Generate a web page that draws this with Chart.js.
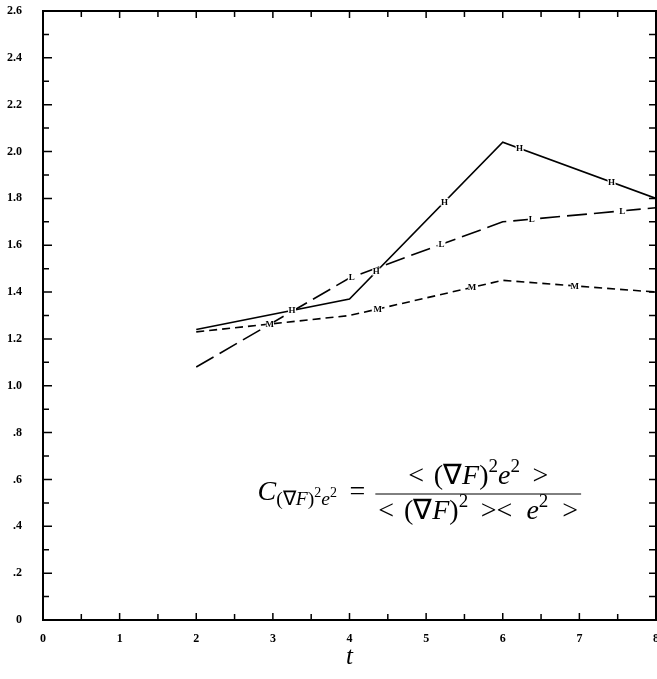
<!DOCTYPE html>
<html>
<head>
<meta charset="utf-8">
<script src="https://cdn.jsdelivr.net/npm/chart.js@4.4.1/dist/chart.umd.min.js"></script>
<style>
  html, body { margin: 0; padding: 0; background: #fff; }
  #wrap { width: 657px; height: 679px; }
</style>
</head>
<body>
<div id="wrap"><canvas id="chart"></canvas></div>
<script>
// values
const times = [2, 4, 6, 8];
const solidValues = [1.24, 1.37, 2.04, 1.80];
const longDashValues = [1.08, 1.46, 1.70, 1.76];
const shortDashValues = [1.23, 1.30, 1.45, 1.40];

// where the little curve symbols sit along each line (t values)
const solidMarks = [3.25, 4.35, 5.24, 6.22, 7.42];
const longDashMarks = [4.03, 5.2, 6.38, 7.56];
const shortDashMarks = [2.96, 4.37, 5.6, 6.94];

const xMin = 0, xMax = 8;
const yMin = 0, yMax = 2.6;

const FONT = '"Liberation Serif", "Times New Roman", serif';

function toPoints(vals) {
    return times.map((t, i) => ({x: t, y: vals[i]}));
}

function yLabel(v) {
    if (Math.abs(v) < 1e-9) return '0';
    if (v < 1) return '.' + Math.round(v * 10);
    return v.toFixed(1);
}

function valueAt(vals, t) {
    for (let i = 0; i < times.length - 1; i++) {
        if (t >= times[i] && t <= times[i + 1]) {
            const f = (t - times[i]) / (times[i + 1] - times[i]);
            return vals[i] + f * (vals[i + 1] - vals[i]);
        }
    }
    return vals[vals.length - 1];
}

// draws a list of text runs (g = blank gap in em), returns the width
function drawRuns(ctx, runs, x, baseline, size, measureOnly) {
    let cx = x;
    runs.forEach(r => {
        if (r.g) { cx += r.g * size; return; }
        const s = size * (r.k || 1);
        ctx.font = (r.it ? 'italic ' : '') + s + 'px ' + FONT;
        if (!measureOnly) ctx.fillText(r.t, cx, baseline + (r.dy || 0) * size);
        cx += ctx.measureText(r.t).width;
    });
    return cx - x;
}

const SUP = {k: 0.68, dy: -0.4};
const SUB = {k: 0.7, dy: 0.2};
const SUBSUP = {k: 0.5, dy: -0.1};

const numerRuns = [
    {t: '<'}, {g: 0.35}, {t: '(\u2207'}, {t: 'F', it: 1}, {t: ')'}, {t: '2', ...SUP},
    {t: 'e', it: 1}, {t: '2', ...SUP}, {g: 0.45}, {t: '>'}
];
const denomRuns = [
    {t: '<'}, {g: 0.35}, {t: '(\u2207'}, {t: 'F', it: 1}, {t: ')'}, {t: '2', ...SUP},
    {g: 0.45}, {t: '><'}, {g: 0.5}, {t: 'e', it: 1}, {t: '2', ...SUP}, {g: 0.5}, {t: '>'}
];
const leftRuns = [
    {t: 'C', it: 1}, {t: '(\u2207', ...SUB}, {t: 'F', it: 1, ...SUB}, {t: ')', ...SUB},
    {t: '2', ...SUBSUP}, {t: 'e', it: 1, ...SUB}, {t: '2', ...SUBSUP}, {g: 0.45}, {t: '='}
];

const framePlugin = {
    id: 'frame',
    afterDraw(chart) {
        const ctx = chart.ctx;
        const a = chart.chartArea;
        const xs = chart.scales.x, ys = chart.scales.y;
        ctx.save();
        ctx.strokeStyle = '#000';
        ctx.fillStyle = '#000';

        // frame
        ctx.lineWidth = 2;
        ctx.strokeRect(a.left, a.top, a.right - a.left, a.bottom - a.top);

        // inward ticks
        ctx.lineWidth = 1.5;
        ctx.beginPath();
        for (let i = 1; i < 26; i++) {
            const py = ys.getPixelForValue(i / 10);
            const len = i % 2 === 0 ? 9 : 6;
            ctx.moveTo(a.left, py); ctx.lineTo(a.left + len, py);
            ctx.moveTo(a.right, py); ctx.lineTo(a.right - 7, py);
        }
        for (let i = 1; i < 16; i++) {
            const px = xs.getPixelForValue(i / 2);
            const len = i % 2 === 0 ? 7 : 6;
            ctx.moveTo(px, a.bottom); ctx.lineTo(px, a.bottom - len);
            ctx.moveTo(px, a.top); ctx.lineTo(px, a.top + len);
        }
        ctx.stroke();

        // curve symbols
        ctx.font = 'bold 9px ' + FONT;
        ctx.textAlign = 'center';
        ctx.textBaseline = 'middle';
        const sets = [
            [solidValues, solidMarks, 'H'],
            [longDashValues, longDashMarks, 'L'],
            [shortDashValues, shortDashMarks, 'M']
        ];
        sets.forEach(([vals, marks, sym]) => {
            marks.forEach(t => {
                const px = xs.getPixelForValue(t);
                const py = ys.getPixelForValue(valueAt(vals, t));
                ctx.fillStyle = '#fff';
                ctx.fillRect(px - 4, py - 4, 8, 8);
                ctx.fillStyle = '#000';
                ctx.fillText(sym, px, py + 0.5);
            });
        });

        // formula
        ctx.textAlign = 'left';
        ctx.textBaseline = 'alphabetic';
        const size = 28;
        const cx = xs.getPixelForValue(5.68);
        const by = ys.getPixelForValue(0.54);
        const nw = drawRuns(ctx, numerRuns, 0, 0, size, true);
        const dw = drawRuns(ctx, denomRuns, 0, 0, size, true);
        const lw = drawRuns(ctx, leftRuns, 0, 0, size, true);
        const bw = Math.max(nw, dw) + 6;
        const bx0 = cx - bw / 2;
        drawRuns(ctx, numerRuns, cx - nw / 2, by - 10, size);
        drawRuns(ctx, denomRuns, cx - dw / 2, by + 25, size);
        drawRuns(ctx, leftRuns, bx0 - lw - 10, by + 6, size);
        ctx.lineWidth = 1;
        ctx.beginPath();
        ctx.moveTo(bx0, by + 0.5);
        ctx.lineTo(bx0 + bw, by + 0.5);
        ctx.stroke();

        ctx.restore();
    }
};

const lineBase = {
    borderColor: '#000',
    borderWidth: 1.6,
    pointRadius: 0,
    tension: 0,
    fill: false
};

new Chart(document.getElementById('chart'), {
    type: 'line',
    data: {
        datasets: [
            {...lineBase, label: 'solid', data: toPoints(solidValues)},
            {...lineBase, label: 'long dash', data: toPoints(longDashValues), borderDash: [20, 7]},
            {...lineBase, label: 'short dash', data: toPoints(shortDashValues), borderDash: [8, 5]}
        ]
    },
    options: {
        responsive: true,
        maintainAspectRatio: false,
        animation: false,
        layout: {padding: {top: 11, right: 1, bottom: 0, left: 0}},
        plugins: {legend: {display: false}, tooltip: {enabled: false}},
        scales: {
            x: {
                type: 'linear',
                min: xMin, max: xMax,
                grid: {display: false, drawTicks: false},
                border: {display: false},
                ticks: {
                    stepSize: 1,
                    padding: 12,
                    color: '#000',
                    maxRotation: 0,
                    autoSkip: false,
                    font: {family: FONT, size: 12, weight: 'bold'}
                },
                title: {
                    display: true,
                    text: 't',
                    color: '#000',
                    padding: {top: 0, bottom: 7},
                    font: {family: FONT, size: 25, style: 'italic'}
                },
                afterFit(s) {
                    s.height = 59;
                    s.paddingLeft = 0;
                    s.paddingRight = 0;
                }
            },
            y: {
                min: yMin, max: yMax,
                grid: {display: false, drawTicks: false},
                border: {display: false},
                ticks: {
                    stepSize: 0.2,
                    padding: 21,
                    color: '#000',
                    autoSkip: false,
                    font: {family: FONT, size: 12, weight: 'bold'},
                    callback: v => yLabel(v)
                },
                afterFit(s) {
                    s.width = 43;
                    s.paddingTop = 0;
                    s.paddingBottom = 0;
                }
            }
        }
    },
    plugins: [framePlugin]
});
</script>
</body>
</html>
